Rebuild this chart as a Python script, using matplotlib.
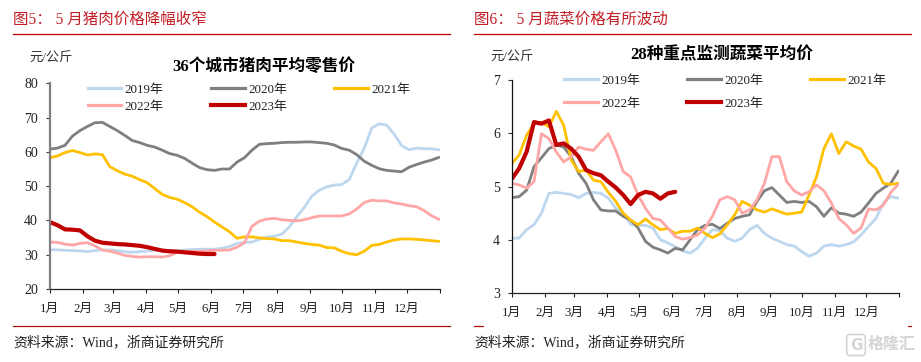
import numpy as np
import matplotlib
matplotlib.use("Agg")
import matplotlib.pyplot as plt
from matplotlib.lines import Line2D

plt.rcParams['font.family'] = ['Liberation Serif', 'Noto Sans CJK SC', 'DejaVu Sans']
W, H = 921, 362

MONTH_DAYS = [0, 31, 59, 90, 120, 151, 181, 212, 243, 273, 304, 334, 365]
MONTH_LABELS = ['1月', '2月', '3月', '4月', '5月', '6月', '7月', '8月', '9月', '10月', '11月', '12月', '']
YEARS = ['2019年', '2020年', '2021年', '2022年', '2023年']
COLORS = ['#BDD7EE', '#7F7F7F', '#FFC000', '#FFA6A6', '#C00000']
WIDTHS = [2.0, 2.0, 2.0, 2.0, 3.0]
WEEK = 7

pork_2019 = [31.5,31.4,31.3,31.2,31.1,30.9,31.2,31.4,31.4,31.2,30.9,30.7,30.9,31.1,31.3,31.3,31.2,31.1,31.4,31.5,31.6,31.6,31.6,31.9,32.4,33.3,33.6,
             33.7,34.5,35.2,35.4,36.0,38.1,41.1,43.8,47.1,48.8,49.8,50.3,50.5,51.9,56.7,61.0,66.9,68.2,67.8,65.2,61.9,60.6,61.1,60.9,60.9,60.6]
pork_2020 = [60.8,61.1,61.9,64.6,66.2,67.4,68.5,68.6,67.4,66.2,64.8,63.3,62.7,61.9,61.4,60.5,59.5,59.0,58.1,56.7,55.4,54.8,54.6,55.0,55.0,57.0,58.3,
             60.5,62.2,62.4,62.5,62.7,62.8,62.8,62.9,62.9,62.7,62.5,62.0,61.0,60.5,59.2,57.3,56.1,55.1,54.6,54.4,54.2,55.5,56.3,57.0,57.6,58.4]
pork_2021 = [58.3,58.8,59.8,60.4,59.8,59.1,59.4,59.2,55.7,54.5,53.5,52.9,51.9,51.0,49.3,47.6,46.7,46.2,45.2,44.0,42.4,41.1,39.5,38.1,36.7,34.8,35.2,
             35.2,34.9,34.7,34.6,34.1,34.1,33.7,33.3,33.0,32.8,32.1,32.0,31.0,30.3,30.0,31.0,32.7,33.0,33.7,34.3,34.6,34.6,34.5,34.3,34.1,33.9]
pork_2022 = [33.7,33.6,33.1,32.8,33.3,33.5,32.6,31.4,31.0,30.5,29.8,29.5,29.3,29.4,29.4,29.3,29.7,30.7,31.0,31.0,31.0,31.1,31.3,31.3,31.4,32.2,33.5,
             38.3,39.8,40.4,40.6,40.2,40.0,39.9,40.2,40.8,41.3,41.3,41.3,41.3,41.9,43.3,45.2,45.9,45.7,45.7,45.1,44.8,44.3,44.0,42.9,41.4,40.3]
pork_2023 = [39.5,38.6,37.4,37.3,37.1,35.4,34.1,33.5,33.3,33.1,33.0,32.8,32.6,32.2,31.7,31.2,31.0,30.9,30.7,30.5,30.3,30.2,30.2]

veg_2019 = [4.03,4.03,4.19,4.28,4.50,4.87,4.89,4.87,4.85,4.79,4.87,4.89,4.87,4.78,4.59,4.50,4.29,4.27,4.27,4.22,4.00,3.94,3.87,3.79,3.75,3.84,4.03,
            4.19,4.17,4.03,3.97,4.03,4.19,4.27,4.12,4.03,3.97,3.91,3.88,3.78,3.69,3.75,3.88,3.91,3.88,3.91,3.96,4.09,4.25,4.40,4.69,4.81,4.78]
veg_2020 = [4.79,4.81,4.93,5.37,5.54,5.71,5.78,5.74,5.56,5.25,5.06,4.75,4.56,4.54,4.54,4.44,4.37,4.22,3.97,3.86,3.81,3.75,3.84,3.81,4.00,4.19,4.27,
            4.29,4.21,4.31,4.40,4.44,4.47,4.72,4.92,4.98,4.84,4.70,4.72,4.70,4.72,4.62,4.44,4.60,4.50,4.48,4.44,4.52,4.69,4.87,4.97,5.06,5.29]
veg_2021 = [5.43,5.59,5.96,6.18,6.21,6.12,6.41,6.15,5.50,5.28,5.31,5.12,5.09,4.89,4.72,4.50,4.37,4.28,4.39,4.28,4.19,4.21,4.12,4.16,4.16,4.22,4.12,
            4.04,4.11,4.28,4.47,4.72,4.65,4.56,4.52,4.58,4.53,4.48,4.50,4.52,4.84,5.18,5.71,5.99,5.62,5.84,5.76,5.70,5.46,5.34,5.06,5.04,5.06]
veg_2022 = [5.06,5.03,4.97,5.09,5.99,5.90,5.65,5.46,5.56,5.74,5.70,5.68,5.84,5.99,5.68,5.28,5.18,4.84,4.59,4.40,4.37,4.22,4.06,4.01,4.04,4.09,4.22,
            4.44,4.75,4.81,4.75,4.50,4.56,4.75,5.06,5.56,5.56,5.09,4.92,4.84,4.90,5.03,4.92,4.69,4.40,4.28,4.12,4.22,4.58,4.56,4.65,4.89,5.04]
veg_2023 = [5.14,5.34,5.65,6.21,6.18,6.24,5.78,5.81,5.71,5.56,5.31,5.25,5.21,5.09,4.98,4.84,4.67,4.84,4.90,4.87,4.77,4.87,4.90]

PORK = [pork_2019, pork_2020, pork_2021, pork_2022, pork_2023]
VEG = [veg_2019, veg_2020, veg_2021, veg_2022, veg_2023]


def fx(x):
    return x / W


def fy(y):
    return 1 - y / H


fig = plt.figure(figsize=(W / 100, H / 100), dpi=100, facecolor='white')


def panel(box, series, ylim, yticks, spine_color, spine_w, leg_anchor, labelspacing):
    l, t, r, b = box
    ax = fig.add_axes([fx(l), fy(b), (r - l) / W, (b - t) / H])
    for vals, c, lw in zip(series, COLORS, WIDTHS):
        ax.plot(np.arange(len(vals)) * WEEK, vals, color=c, lw=lw, solid_capstyle='round')
    ax.set_xlim(0, 365)
    ax.set_ylim(*ylim)
    ax.set_yticks(yticks)
    ax.set_xticks(MONTH_DAYS)
    ax.set_xticklabels(MONTH_LABELS)
    ax.tick_params(axis='y', length=2.6, width=0.8, pad=6, labelsize=10, color='#333333', labelcolor='#222222')
    ax.tick_params(axis='x', length=2.6, width=0.8, pad=7.2, labelsize=9.3, color='#222222', labelcolor='#222222')
    for s in ('top', 'right'):
        ax.spines[s].set_visible(False)
    ax.spines['left'].set_color(spine_color)
    ax.spines['left'].set_linewidth(spine_w)
    ax.spines['bottom'].set_color('#222222')
    ax.spines['bottom'].set_linewidth(0.9)
    ax.patch.set_alpha(0)
    order = [0, 3, 1, 4, 2]
    handles = [Line2D([], [], color=COLORS[i], lw=WIDTHS[i] + (0.3 if i < 4 else 0)) for i in order]
    labels = [YEARS[i] for i in order]
    ax.legend(handles, labels, ncol=3, frameon=False, loc='upper left',
              bbox_to_anchor=(fx(leg_anchor[0]), fy(leg_anchor[1])), bbox_transform=fig.transFigure,
              prop={'size': 9.4}, handlelength=2.6, handletextpad=0.25, columnspacing=3.6,
              labelspacing=labelspacing, borderpad=0, borderaxespad=0, labelcolor='#222222')
    return ax


panel((50, 83.3, 440, 289), PORK, (20, 80), [20, 30, 40, 50, 60, 70, 80], '#7F7F7F', 1.6, (87.5, 83.5), 0.4)
panel((511.7, 80, 899.3, 293), VEG, (3, 7), [3, 4, 5, 6, 7], '#111111', 0.9, (564, 74.5), 0.86)

RED = '#C21F26'

fig.text(fx(13), fy(20), '图5： 5 月猪肉价格降幅收窄', color=RED, fontsize=11.2, va='center', ha='left')
fig.text(fx(474), fy(20), '图6： 5 月蔬菜价格有所波动', color=RED, fontsize=11.2, va='center', ha='left')

fig.add_artist(Line2D([fx(13), fx(450)], [fy(34.3)] * 2, color='#CC0000', lw=0.9))
fig.add_artist(Line2D([fx(474), fx(911)], [fy(34.3)] * 2, color='#CC0000', lw=0.9))
fig.add_artist(Line2D([fx(13), fx(450)], [fy(325.5)] * 2, color='#B01010', lw=0.9))
fig.add_artist(Line2D([fx(474), fx(483)], [fy(325.5)] * 2, color='#B01010', lw=0.9))
fig.add_artist(Line2D([fx(908), fx(911)], [fy(325.5)] * 2, color='#B01010', lw=0.9))

fig.text(fx(264), fy(67), '36个城市猪肉平均零售价', color='black', fontsize=12, fontweight='bold', ha='center', va='center')
fig.text(fx(722), fy(55), '28种重点监测蔬菜平均价', color='black', fontsize=12, fontweight='bold', ha='center', va='center')

fig.text(fx(29), fy(59), '元/公斤', color='#333333', fontsize=9.5, ha='left', va='center')
fig.text(fx(490), fy(58), '元/公斤', color='#333333', fontsize=9.5, ha='left', va='center')

fig.text(fx(13), fy(342), '资料来源：Wind，浙商证券研究所', color='#222222', fontsize=10, ha='left', va='center')
fig.text(fx(474), fy(342), '资料来源：Wind，浙商证券研究所', color='#222222', fontsize=10, ha='left', va='center')

fig.text(fx(856), fy(345), 'G', color='#D4D4D4', fontsize=11, fontweight='bold', ha='center', va='center',
         family=['DejaVu Sans'],
         bbox=dict(boxstyle='round,pad=0.2', fc='white', ec='#D4D4D4', lw=1.2))
fig.text(fx(892), fy(345), '格隆汇', color='#D4D4D4', fontsize=11.5, fontweight='bold', ha='center', va='center')

fig.savefig('out.png', dpi=100, facecolor='white')
